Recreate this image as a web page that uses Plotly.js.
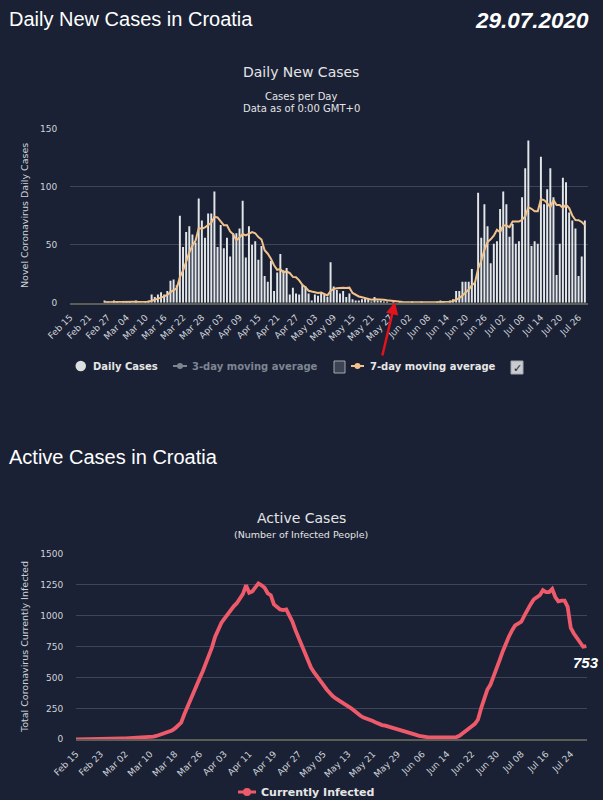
<!DOCTYPE html>
<html><head><meta charset="utf-8">
<script src="https://cdn.plot.ly/plotly-3.0.1.min.js"></script>
<style>html,body{margin:0;padding:0;background:#1a2135;overflow:hidden}#chart{width:603px;height:800px}</style>
</head><body><div id="chart"></div>
<script>
// ---------------- DATA ----------------
const startDate = '2020-02-15';
// Daily new cases, Feb 15 .. Jul 28 2020
const dailyCases = [
0,0,0,0,0,0,0,0,0,0,0,
2,1,0,2,1,0,1,1,1,0,2,0,0,1,2,
7,5,7,9,7,10,19,20,15,
75,48,61,66,59,52,90,71,56,77,77,96,48,67,47,56,40,60,60,64,88,39,66,50,53,37,49,
23,18,36,10,26,42,28,30,7,13,8,7,15,14,8,2,7,6,9,7,5,35,14,11,8,10,5,8,
3,2,2,3,4,3,1,5,2,2,1,1,0,1,0,1,0,0,
0,1,0,0,1,0,0,0,0,1,2,1,0,2,3,
10,10,18,18,18,29,18,95,56,85,66,34,51,53,81,96,85,57,68,51,53,91,116,140,49,53,51,126,85,98,116,91,24,51,108,104,78,71,64,23,40,71
];
// 7-day moving average
const movingAvg7 = [
null,null,null,null,null,null,null,null,null,null,null,
0.3,0.4,0.4,0.7,0.9,0.9,1.0,0.9,0.9,0.9,0.9,0.7,0.7,0.7,0.9,
1.7,2.4,3.1,4.4,5.4,6.7,9.1,11.0,12.4,
22.1,27.7,35.4,43.4,49.1,53.7,64.4,63.9,65.0,67.3,68.9,74.1,73.6,70.3,66.9,66.9,61.6,59.1,54.0,56.3,59.3,58.1,59.6,61.0,60.0,56.7,54.6,
45.3,42.3,38.0,32.3,28.4,29.1,26.1,27.1,25.6,22.3,22.0,19.3,15.4,13.4,10.3,9.6,8.7,8.4,8.7,7.6,6.3,10.1,11.9,12.4,12.7,12.9,12.6,13.0,
8.4,6.7,5.4,4.7,3.9,3.6,2.6,2.9,2.9,2.9,2.6,2.1,1.7,1.7,1.0,0.9,0.6,0.4,
0.3,0.4,0.3,0.3,0.3,0.3,0.3,0.3,0.1,0.3,0.6,0.6,0.6,0.9,1.3,
2.7,4.0,6.3,8.7,11.3,15.1,17.3,29.4,36.0,45.6,52.4,54.7,57.9,62.9,60.9,66.6,66.6,65.3,70.1,70.1,70.1,71.6,74.4,82.3,81.1,79.0,79.0,89.4,88.6,86.0,82.6,88.6,84.4,84.4,81.9,84.6,81.7,75.3,71.4,71.3,69.7,67.0
];
// Active cases, Feb 15 .. Jul 29 2020
const activeCases = [
0,0,0,0,0,0,0,0,0,0,
1,2,3,5,6,7,8,9,9,10,11,12,13,14,17,22,27,34,42,50,58,70,88,108,135,
200,260,330,385,440,494,550,610,680,745,830,885,940,975,1010,1045,1075,1100,1140,1175,1245,1185,1195,1225,1260,1245,1225,1180,1165,1090,1070,1050,1045,1050,
1000,950,880,820,760,700,640,580,540,510,470,440,405,375,350,330,315,295,280,265,250,230,205,190,175,168,158,148,135,122,115,110,103,96,92,86,78,70,62,52,45,36,27,22,18,16,15,15,14,14,14,14,14,
14,18,28,45,65,85,105,125,160,250,330,400,440,500,560,640,710,780,830,880,920,935,950,1000,1050,1090,1130,1150,1165,1205,1190,1190,1215,1150,1115,1120,1120,1070,900,855,815,775,748,753
];
const topTickDates = ['2020-02-15','2020-02-21','2020-02-27','2020-03-04','2020-03-10','2020-03-16','2020-03-22','2020-03-28','2020-04-03','2020-04-09','2020-04-15','2020-04-21','2020-04-27','2020-05-03','2020-05-09','2020-05-15','2020-05-21','2020-05-27','2020-06-02','2020-06-08','2020-06-14','2020-06-20','2020-06-26','2020-07-02','2020-07-08','2020-07-14','2020-07-20','2020-07-26'];
const topTickLabels = ['Feb 15','Feb 21','Feb 27','Mar 04','Mar 10','Mar 16','Mar 22','Mar 28','Apr 03','Apr 09','Apr 15','Apr 21','Apr 27','May 03','May 09','May 15','May 21','May 27','Jun 02','Jun 08','Jun 14','Jun 20','Jun 26','Jul 02','Jul 08','Jul 14','Jul 20','Jul 26'];
const bottomTickDates = ['2020-02-15','2020-02-23','2020-03-02','2020-03-10','2020-03-18','2020-03-26','2020-04-03','2020-04-11','2020-04-19','2020-04-27','2020-05-05','2020-05-13','2020-05-21','2020-05-29','2020-06-06','2020-06-14','2020-06-22','2020-06-30','2020-07-08','2020-07-16','2020-07-24'];
const bottomTickLabels = ['Feb 15','Feb 23','Mar 02','Mar 10','Mar 18','Mar 26','Apr 03','Apr 11','Apr 19','Apr 27','May 05','May 13','May 21','May 29','Jun 06','Jun 14','Jun 22','Jun 30','Jul 08','Jul 16','Jul 24'];
const topYTicks = [0,50,100,150];
const bottomYTicks = [0,250,500,750,1000,1250,1500];

// ---------------- HELPERS ----------------
function dateSeq(start, n){
  const t0 = Date.parse(start + 'T00:00:00Z'); const out = [];
  for (let i=0;i<n;i++) out.push(new Date(t0 + i*86400000).toISOString().slice(0,10));
  return out;
}
const W = 603, H = 800;
const px = x => x / W, py = y => 1 - y / H;
const BG = '#1a2135', GRID = '#3d4557', TICK = '#d0d3d8', TXT = '#e4e4e4';
const F = 'DejaVu Sans, Verdana, sans-serif', FH = 'Liberation Sans, Arial, sans-serif';
function txt(text, x, y, size, opts){
  return Object.assign({text:text, x:px(x), y:py(y), xref:'paper', yref:'paper', showarrow:false,
    xanchor:'center', yanchor:'middle', font:{family:F, size:size, color:TXT}}, opts||{});
}

const dTop = dateSeq(startDate, dailyCases.length);
const dBot = dateSeq(startDate, activeCases.length);

const traces = [
  {type:'bar', x:dTop, y:dailyCases, xaxis:'x', yaxis:'y', name:'Daily Cases',
   marker:{color:'#e2e6e7', line:{width:0}}, width:0.62*86400000, hoverinfo:'x+y'},
  {type:'scatter', mode:'lines', x:dTop, y:movingAvg7, xaxis:'x', yaxis:'y', name:'7-day moving average',
   line:{color:'#f1c28c', width:2}, connectgaps:false},
  {type:'scatter', mode:'lines', x:dBot, y:activeCases, xaxis:'x2', yaxis:'y2', name:'Currently Infected',
   line:{color:'#ef5a6b', width:3.8}}
];

const axisCommon = {showgrid:false, showline:true, linecolor:'#5d5d58', linewidth:2, ticks:'outside',
  tickcolor:'rgba(0,0,0,0)', ticklen:4, tickangle:-45, tickfont:{family:F, size:9, color:TICK}, fixedrange:true, zeroline:false};
const yCommon = {showgrid:true, gridcolor:GRID, gridwidth:1, zeroline:false, showline:false, ticks:'outside',
  tickcolor:'rgba(0,0,0,0)', ticklen:10, tickfont:{family:F, size:9, color:TICK}, fixedrange:true};

const layout = {
  width:W, height:H, margin:{l:0,r:0,t:0,b:0}, paper_bgcolor:BG, plot_bgcolor:BG,
  showlegend:false, bargap:0.3, font:{family:F, color:TXT},
  xaxis: Object.assign({}, axisCommon, {domain:[px(70), px(588)], anchor:'y', type:'date',
    range:['2020-02-15','2020-07-29'], tickmode:'array', tickvals:topTickDates, ticktext:topTickLabels}),
  yaxis: Object.assign({}, yCommon, {domain:[py(302.7), py(129)], anchor:'x', range:[0,150], tickmode:'array', tickvals:topYTicks}),
  xaxis2: Object.assign({}, axisCommon, {domain:[px(76), px(587)], anchor:'y2', type:'date',
    range:['2020-02-15','2020-07-29 06:00'], tickmode:'array', tickvals:bottomTickDates, ticktext:bottomTickLabels}),
  yaxis2: Object.assign({}, yCommon, {domain:[py(739.3), py(553.7)], anchor:'x2', range:[0,1500], tickmode:'array', tickvals:bottomYTicks}),
  annotations: [
    txt('Daily New Cases in Croatia', 7, 19, 20, {xanchor:'left', font:{family:FH, size:20, color:'#ffffff'}}),
    txt('29.07.2020', 591, 21, 22.5, {xanchor:'right', font:{family:FH, size:22.5, color:'#ffffff', weight:'bold', style:'italic'}}),
    txt('Daily New Cases', 301, 72, 14),
    txt('Cases per Day', 301, 96, 10),
    txt('Data as of 0:00 GMT+0', 301, 109, 10),
    txt('Novel Coronavirus Daily Cases', 24, 216, 9.5, {textangle:-90, font:{family:F, size:9.5, color:TICK}}),
    // legend (top)
    txt('Daily Cases', 91, 366, 10, {xanchor:'left', font:{family:F, size:10, color:'#e6e6e6', weight:'bold'}}),
    txt('3-day moving average', 190, 366, 10, {xanchor:'left', font:{family:F, size:10, color:'#7e8591', weight:'bold'}}),
    txt('7-day moving average', 368, 366, 10, {xanchor:'left', font:{family:F, size:10, color:'#e6e6e6', weight:'bold'}}),
    txt('✓', 517, 368, 11, {font:{family:F, size:11, color:'#1a2135', weight:'bold'}}),
    // arrow
    {x:px(395), y:py(302), xref:'paper', yref:'paper', ax:-13, ay:55, showarrow:true, arrowhead:2, arrowsize:1,
     arrowwidth:2.5, arrowcolor:'#e3121b', text:''},
    // bottom section
    txt('Active Cases in Croatia', 7, 457, 20, {xanchor:'left', font:{family:FH, size:20, color:'#ffffff'}}),
    txt('Active Cases', 301, 518, 14),
    txt('(Number of Infected People)', 301, 534, 9.5),
    txt('Total Coronavirus Currently Infected', 24, 647, 9.5, {textangle:-90, font:{family:F, size:9.5, color:TICK}}),
    {x:dBot[dBot.length-1], y:activeCases[activeCases.length-1], xref:'x2', yref:'y2', showarrow:false,
     text:String(activeCases[activeCases.length-1]), xanchor:'center', yanchor:'middle', yshift:-16, xshift:0,
     font:{family:FH, size:15, color:'#ffffff', weight:'bold', style:'italic'}},
    txt('Currently Infected', 259, 792, 11, {xanchor:'left', font:{family:F, size:11, color:'#e6e6e6', weight:'bold'}})
  ],
  shapes: [
    {type:'circle', xref:'paper', yref:'paper', x0:px(75.5), x1:px(86), y0:py(371.3), y1:py(360.8), fillcolor:'#dcdfe0', line:{width:0}},
    {type:'line', xref:'paper', yref:'paper', x0:px(173), x1:px(187), y0:py(366), y1:py(366), line:{color:'#7e8591', width:2}},
    {type:'circle', xref:'paper', yref:'paper', x0:px(177), x1:px(183), y0:py(369), y1:py(363), fillcolor:'#7e8591', line:{width:0}},
    {type:'rect', xref:'paper', yref:'paper', x0:px(334), x1:px(345), y0:py(373), y1:py(361), fillcolor:'#3c4352', line:{color:'#a3a8b0', width:1}},
    {type:'line', xref:'paper', yref:'paper', x0:px(351), x1:px(364), y0:py(366), y1:py(366), line:{color:'#f1c28c', width:2}},
    {type:'circle', xref:'paper', yref:'paper', x0:px(354.5), x1:px(360.5), y0:py(369), y1:py(363), fillcolor:'#f1c28c', line:{width:0}},
    {type:'rect', xref:'paper', yref:'paper', x0:px(511), x1:px(523), y0:py(374), y1:py(361), fillcolor:'#c9cbcf', line:{color:'#a3a8b0', width:1}},
    {type:'line', xref:'paper', yref:'paper', x0:px(238), x1:px(256), y0:py(792), y1:py(792), line:{color:'#ef5a6b', width:3}},
    {type:'circle', xref:'paper', yref:'paper', x0:px(243), x1:px(251), y0:py(796), y1:py(788), fillcolor:'#ef5a6b', line:{width:0}}
  ]
};

Plotly.newPlot('chart', traces, layout, {displayModeBar:false, staticPlot:true});
</script>
</body></html>
